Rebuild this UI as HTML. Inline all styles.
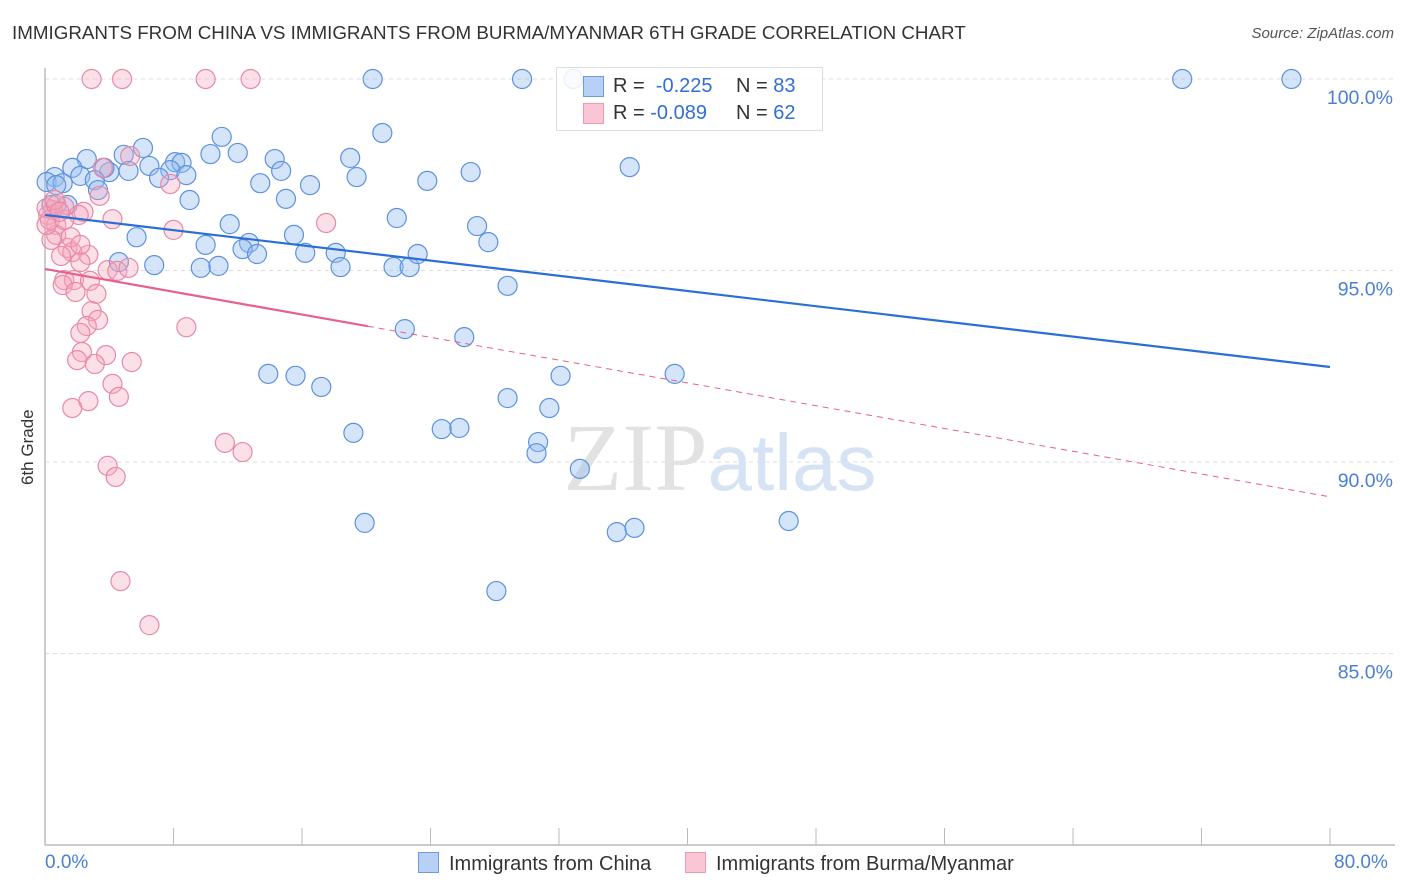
<!DOCTYPE html>
<html><head><meta charset="utf-8"><style>
body{margin:0;background:#fff;font-family:"Liberation Sans",sans-serif;}
#wrap{position:relative;width:1406px;height:892px;overflow:hidden;}
.t{position:absolute;white-space:nowrap;}
</style></head><body>
<div id="wrap">
<div class="t" style="left:12px;top:22px;font-size:18.8px;color:#333;">IMMIGRANTS FROM CHINA VS IMMIGRANTS FROM BURMA/MYANMAR 6TH GRADE CORRELATION CHART</div>
<div class="t" style="right:12px;top:25px;font-size:15px;color:#555;font-style:italic;">Source: ZipAtlas.com</div>
<svg id="chart" width="1406" height="892" style="position:absolute;left:0;top:0"></svg>
</div>
<script>
const blueX=[20.4,29.7,32.9,70.8,77.6,11.0,21.0,6.1,2.6,1.7,4.9,10.3,12.0,8.1,8.5,6.5,7.8,5.2,14.3,19.0,14.7,4.0,3.7,0.6,0.1,1.1,2.2,3.1,7.1,8.8,19.4,13.4,16.5,23.8,26.5,36.4,3.3,9.0,15.0,1.4,0.4,21.9,11.5,5.7,10.0,12.7,12.3,13.2,15.5,16.2,18.1,18.4,21.7,22.7,23.2,26.9,27.6,6.8,4.6,9.7,10.8,28.8,22.4,26.1,13.9,15.6,17.2,32.1,39.2,28.8,31.4,19.2,24.7,25.8,30.7,30.6,33.3,19.9,35.6,36.7,46.3,28.1,0.7];
const blueY=[100,100,100,100,100,98.49,98.59,98.20,97.91,97.68,98.02,98.04,98.07,97.83,97.81,97.73,97.62,97.60,97.91,97.94,97.60,97.57,97.68,97.44,97.31,97.28,97.47,97.36,97.42,97.49,97.44,97.28,97.23,97.34,97.57,97.70,97.10,96.84,96.87,96.71,96.71,96.37,96.21,95.87,95.67,95.72,95.56,95.43,95.93,95.46,95.46,95.09,95.09,95.09,95.43,96.16,95.74,95.14,95.22,95.07,95.12,94.60,93.47,93.26,92.30,92.25,91.96,92.25,92.30,91.67,91.41,90.76,90.86,90.89,90.52,90.23,89.82,88.41,88.17,88.28,88.46,86.63,97.23];
const pinkX=[2.9,4.8,10.0,12.8,5.3,3.6,7.8,3.4,1.2,2.4,2.1,0.5,0.2,4.2,17.5,8.0,0.7,0.7,0.4,1.4,1.7,1.0,2.7,2.2,3.9,4.5,5.2,1.2,1.8,2.8,1.1,1.9,3.2,2.9,3.3,2.6,2.2,8.8,2.3,3.8,2.0,3.1,5.4,4.2,2.7,4.6,1.7,11.2,12.3,3.9,4.4,4.7,6.5,0.3,0.1,0.7,1.6,0.6,1.2,2.2,0.1,0.9];
const pinkY=[100,100,100,100,97.99,97.68,97.26,96.95,96.66,96.53,96.45,96.58,96.45,96.34,96.24,96.06,96.19,95.93,95.80,95.59,95.48,95.38,95.41,95.22,95.01,94.99,95.07,94.75,94.75,94.73,94.62,94.44,94.39,93.94,93.71,93.55,93.37,93.52,92.87,92.79,92.66,92.56,92.61,92.04,91.59,91.70,91.41,90.50,90.26,89.90,89.61,86.89,85.74,96.32,96.63,96.71,95.87,96.84,96.32,95.67,96.19,96.53];
const blueTrend=[96.45,92.48];
const pinkTrend=[95.04,89.09];
const pinkSolidEnd=20.1;
const yTicks=[100,95,90,85];
const yTickLabels=["100.0%","95.0%","90.0%","85.0%"];
const xTickVals=[0,8,16,24,32,40,48,56,64,72,80];

const NS="http://www.w3.org/2000/svg";
const svg=document.getElementById('chart');
const X0=45,X1=1330;
const xs=v=>X0+(X1-X0)*v/80;
const ys=v=>79+(100-v)*38.3;
function mk(tag,attrs){const e=document.createElementNS(NS,tag);for(const k in attrs)e.setAttribute(k,attrs[k]);svg.appendChild(e);return e;}

yTicks.forEach((v,i)=>{
  const g=mk('line',{x1:X0,x2:1395,y1:ys(v),y2:ys(v),stroke:'#ddd','stroke-dasharray':'4,4','stroke-width':1});
  
  
  const t=mk('text',{x:1393,y:ys(v)+25,'text-anchor':'end','font-size':19.5,fill:'#4a7fd4','font-family':'Liberation Sans'});
  t.textContent=yTickLabels[i];
  
  
});
const ax=mk('line',{x1:X0,x2:X0,y1:68,y2:845,stroke:'#bbb','stroke-width':1.5});


const bx=mk('line',{x1:X0,x2:1395,y1:845,y2:845,stroke:'#bbb','stroke-width':1.5});


xTickVals.forEach(v=>{
  const l=mk('line',{x1:xs(v),x2:xs(v),y1:828,y2:845,stroke:'#bbb','stroke-width':1});
  
  
});
const wm=mk('text',{x:720,y:490,'text-anchor':'middle','font-size':96,fill:'#e2e2e2','font-family':'Liberation Serif'});
wm.innerHTML='<tspan>ZIP</tspan><tspan font-family="Liberation Sans" font-size="80" fill="#d5e3f5">atlas</tspan>';



blueX.forEach((v,i)=>{
  const c=mk('circle',{cx:xs(v),cy:ys(blueY[i]),r:9.5,fill:'rgba(150,190,240,0.4)',stroke:'#5d91e0','stroke-width':1.2});
  
  
});
pinkX.forEach((v,i)=>{
  const c=mk('circle',{cx:xs(v),cy:ys(pinkY[i]),r:9.5,fill:'rgba(245,165,188,0.35)',stroke:'#e889a6','stroke-width':1.2});
  
  
});
const bt=mk('line',{x1:xs(0),y1:ys(blueTrend[0]),x2:xs(80),y2:ys(blueTrend[1]),stroke:'#2a6fd6','stroke-width':2.2});


const pAt=x=>pinkTrend[0]+(pinkTrend[1]-pinkTrend[0])*x/80;
const pt=mk('line',{x1:xs(0),y1:ys(pinkTrend[0]),x2:xs(pinkSolidEnd),y2:ys(pAt(pinkSolidEnd)),stroke:'#e8608e','stroke-width':2.2});


const pd=mk('line',{x1:xs(pinkSolidEnd),y1:ys(pAt(pinkSolidEnd)),x2:xs(80),y2:ys(pinkTrend[1]),stroke:'#e8608e','stroke-width':1,'stroke-dasharray':'6,5'});


</script>
<div class="t" style="left:-2px;top:445px;font-size:17px;color:#333;transform:rotate(-90deg);transform-origin:center;width:60px;text-align:center;">6th Grade</div>
<div class="t" style="left:45px;top:852px;font-size:19px;color:#4a7fd4;">0.0%</div>
<div class="t" style="left:1334px;top:852px;font-size:19px;color:#4a7fd4;">80.0%</div>
<div style="position:absolute;left:556px;top:67px;width:265px;height:62px;border:1px solid #ddd;background:rgba(255,255,255,0.85);font-size:20px;">
 <div style="position:absolute;left:26px;top:8px;width:19px;height:19px;background:#b6d1f5;border:1px solid #6d9be3;"></div>
 <div class="t" style="left:56px;top:7px;color:#333;">R = <span style="color:#2f6fd6">&nbsp;-0.225</span></div>
 <div class="t" style="left:179px;top:7px;color:#333;">N = <span style="color:#2f6fd6">83</span></div>
 <div style="position:absolute;left:26px;top:35px;width:19px;height:19px;background:#fac6d5;border:1px solid #ee9ab4;"></div>
 <div class="t" style="left:56px;top:34px;color:#333;">R = <span style="color:#2f6fd6">-0.089</span></div>
 <div class="t" style="left:179px;top:34px;color:#333;">N = <span style="color:#2f6fd6">62</span></div>
</div>
<div style="position:absolute;left:418px;top:852px;font-size:20px;color:#333;white-space:nowrap;">
 <span style="display:inline-block;width:19px;height:19px;background:#b6d1f5;border:1px solid #6d9be3;vertical-align:-3px;margin-right:10px;"></span>Immigrants from China</div>
<div style="position:absolute;left:685px;top:852px;font-size:20px;color:#333;white-space:nowrap;">
 <span style="display:inline-block;width:19px;height:19px;background:#fac6d5;border:1px solid #ee9ab4;vertical-align:-3px;margin-right:10px;"></span>Immigrants from Burma/Myanmar</div>
</body></html>
